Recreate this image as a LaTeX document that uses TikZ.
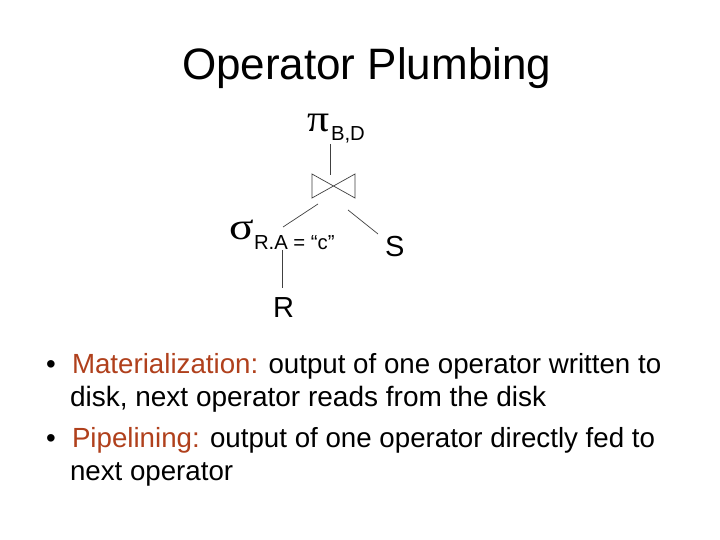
\documentclass[tikz,border=0pt]{standalone}
\usepackage{graphicx}
\usepackage{fontspec}
\setmainfont{Liberation Sans}
\newfontfamily\greekfont{Liberation Serif}
\definecolor{rust}{HTML}{B0401C}
\tikzset{
  txt/.style={anchor=base west,inner sep=0pt,outer sep=0pt},
  title/.style={txt,font=\fontsize{44}{44}\selectfont},
  body/.style={txt,font=\fontsize{27.7}{27.7}\selectfont},
  bodywide/.style={txt,font=\fontsize{28}{28}\selectfont},
  big/.style={txt,font=\fontsize{29}{29}\selectfont},
  sub/.style={txt,font=\fontsize{20.3}{20.3}\selectfont},
  greek/.style={txt,font=\fontsize{38}{38}\selectfont\greekfont},
  edge/.style={draw=black!75,line width=0.7pt},
  tie/.style={minimum width=43pt,minimum height=24pt,inner sep=0pt,outer sep=0pt}
}
\begin{document}
\begin{tikzpicture}[x=1pt,y=-1pt]
\useasboundingbox[fill=white] (0,0) rectangle (720,540);
\node[title] (ttl) at (182,80) {Operator Plumbing};
\node[greek] (pi) at (307,132) {\scalebox{1.15}[1]{π}};
\node[sub] (pisub) at (331,141) {B,D};
\node[tie] (bow) at (333.5,186) {};
\draw[edge] (bow.north west) -- (bow.south east) -- (bow.north east) -- (bow.south west) -- cycle;
\node[greek] (sel) at (229,240) {\scalebox{1.2}[1]{σ}};
\node[sub] (selsub) at (254,249) {R.A = “c”};
\node[big] (s) at (385,256) {S};
\node[big] (r) at (273,317) {R};
\draw[edge] ([shift={(-1,3)}]pisub.base west) -- ([shift={(-3.5,1)}]bow.north);
\draw[edge] ([shift={(6,6)}]bow.south west) -- ([shift={(29,-22)}]selsub.base west);
\draw[edge] ([shift={(-7,12)}]bow.south east) -- ([shift={(-7,-22)}]s.base west);
\draw[edge] ([shift={(28,1)}]selsub.base west) -- ([shift={(9,-29)}]r.base west);
\node[body] (b1) at (46,373) {•};
\node[body] (l1) at (72,373) {\textcolor{rust}{Materialization:} output of one operator written to};
\node[bodywide] (l2) at (70,406) {disk, next operator reads from the disk};
\node[body] (b2) at (46,447) {•};
\node[body] (l3) at (72,447) {\textcolor{rust}{Pipelining:} output of one operator directly fed to};
\node[body] (l4) at (70,480) {next operator};
\end{tikzpicture}
\end{document}
